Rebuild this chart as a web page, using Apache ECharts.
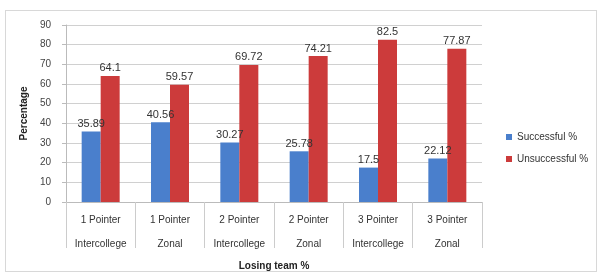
<!DOCTYPE html>
<html>
<head>
<meta charset="utf-8">
<script src="https://cdn.jsdelivr.net/npm/echarts@6/dist/echarts.min.js"></script>
<style>
  html, body { margin: 0; padding: 0; background: #fff; }
  #chart { width: 600px; height: 278px; }
  #frame { position: absolute; left: 5px; top: 10px; width: 590px; height: 260px; border: 1px solid #d8d8d8; pointer-events: none; }
</style>
</head>
<body>
<div id="chart"></div>
<div id="frame"></div>
<script>
// data
var categories = ['1 Pointer\nIntercollege', '1 Pointer\nZonal', '2 Pointer\nIntercollege', '2 Pointer\nZonal', '3 Pointer\nIntercollege', '3 Pointer\nZonal'];
var successful = [35.89, 40.56, 30.27, 25.78, 17.5, 22.12];
var unsuccessful = [64.1, 59.57, 69.72, 74.21, 82.5, 77.87];
var yTicks = [0, 10, 20, 30, 40, 50, 60, 70, 80, 90];

var chart = echarts.init(document.getElementById('chart'));

var labelStyle = {
    show: true,
    position: 'top',
    distance: 2,
    color: '#333',
    fontSize: 11,
    fontFamily: 'Liberation Sans'
};

option = {
    animation: false,
    textStyle: { fontFamily: 'Liberation Sans' },
    grid: {
        left: 66,
        right: 118,
        top: 25,
        bottom: 76
    },
    legend: {
        orient: 'vertical',
        left: 501,
        top: 127,
        itemWidth: 6,
        itemHeight: 6,
        itemGap: 12,
        icon: 'rect',
        textStyle: { fontSize: 10, color: '#333' },
        data: ['Successful %', 'Unsuccessful %']
    },
    xAxis: {
        type: 'category',
        data: categories,
        name: 'Losing team %',
        nameLocation: 'middle',
        nameGap: 47,
        nameTextStyle: { fontSize: 10, fontWeight: 'bold', color: '#222' },
        axisLine: { lineStyle: { color: '#bbb' } },
        axisTick: { show: true, length: 46, lineStyle: { color: '#ccc' } },
        axisLabel: { color: '#333', fontSize: 10, lineHeight: 24, margin: 6 }
    },
    yAxis: {
        type: 'value',
        min: yTicks[0],
        max: yTicks[yTicks.length - 1],
        interval: 10,
        name: 'Percentage',
        nameLocation: 'middle',
        nameGap: 23,
        nameTextStyle: { fontSize: 10, fontWeight: 'bold', color: '#222' },
        axisLine: { show: true, lineStyle: { color: '#bbb' } },
        axisTick: { show: true, length: 4, lineStyle: { color: '#bbb' } },
        axisLabel: { color: '#444', fontSize: 10, margin: 15 },
        splitLine: { lineStyle: { color: '#d0d0d0' } }
    },
    series: [
        {
            name: 'Successful %',
            type: 'bar',
            barWidth: 19,
            barGap: '0%',
            itemStyle: { color: '#4a7fcc' },
            label: labelStyle,
            data: successful
        },
        {
            name: 'Unsuccessful %',
            type: 'bar',
            barWidth: 19,
            barGap: '0%',
            itemStyle: { color: '#cc3b3b' },
            label: labelStyle,
            data: unsuccessful
        }
    ]
};

chart.setOption(option);
</script>
</body>
</html>
